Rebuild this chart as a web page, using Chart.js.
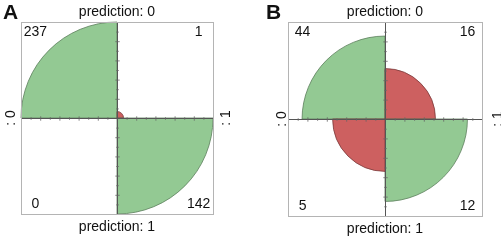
<!DOCTYPE html>
<html>
<head>
<meta charset="utf-8">
<script src="https://cdn.jsdelivr.net/npm/chart.js@4/dist/chart.umd.min.js"></script>
<style>
  html, body { margin: 0; padding: 0; background: #ffffff; }
  #wrap { position: relative; width: 501px; height: 241px; overflow: hidden; }
  canvas { position: absolute; top: 0; }
</style>
</head>
<body>
<div id="wrap">
  <canvas id="cA" width="250" height="241" style="left:0px"></canvas>
  <canvas id="cB" width="251" height="241" style="left:250px"></canvas>
</div>
<script>
// Quadrant order (clockwise from 9 o'clock): top-left, top-right, bottom-right, bottom-left
const quadrants = ['top-left', 'top-right', 'bottom-right', 'bottom-left'];

// Panel A: counts shown in the corners, and the (standardized) quarter-circle radii
const countsA = [237, 1, 142, 0];
const radiusA = [1.0, 0.068, 1.0, 0.0];

// Panel B
const countsB = [44, 16, 12, 5];
const radiusB = [0.855, 0.52, 0.85, 0.54];

// Axis text
const topLabel = 'prediction: 0';
const bottomLabel = 'prediction: 1';
const leftLabel = ': 0';
const rightLabel = ': 1';

// Tick marks along the axes (fraction of the quadrant radius)
const tickValues = [0.1, 0.2, 0.3, 0.4, 0.5, 0.6, 0.7, 0.8, 0.9];

const GREEN = '#93c993';
const RED = '#cd6060';
const GREEN_EDGE = '#5d7f5d';
const RED_EDGE = '#7a3a3a';

const FONT = '"Liberation Sans", Arial, sans-serif';

const fourfoldPlugin = {
  id: 'fourfold',
  afterDatasetsDraw(chart, args, opts) {
    const s = chart.scales.r;
    const ctx = chart.ctx;
    const xc = s.xCenter, yc = s.yCenter, R = s.drawingArea;
    ctx.save();
    // axis cross
    ctx.strokeStyle = '#555555';
    ctx.lineWidth = 1;
    ctx.beginPath();
    ctx.moveTo(xc - R, yc + 0.5); ctx.lineTo(xc + R, yc + 0.5);
    ctx.moveTo(xc + 0.5, yc - R); ctx.lineTo(xc + 0.5, yc + R);
    ctx.stroke();
    // ticks
    ctx.lineWidth = 0.8;
    ctx.strokeStyle = '#666666';
    ctx.beginPath();
    tickValues.forEach((v, i) => {
      const d = s.getDistanceFromCenterForValue(v);
      const h = (i % 2 === 1) ? 2.2 : 1.3;
      [-1, 1].forEach(sg => {
        const px = xc + 0.5 + sg * d;
        const py = yc + 0.5 + sg * d;
        ctx.moveTo(px, yc + 0.5 - h); ctx.lineTo(px, yc + 0.5 + h);
        ctx.moveTo(xc + 0.5 - h, py); ctx.lineTo(xc + 0.5 + h, py);
      });
    });
    ctx.stroke();
    // box
    ctx.strokeStyle = '#b4b4b4';
    ctx.lineWidth = 1;
    ctx.strokeRect(xc - R + 0.5, yc - R + 0.5, 2 * R, 2 * R);

    // texts
    ctx.fillStyle = '#111111';
    ctx.font = '14px ' + FONT;
    ctx.textAlign = 'center';
    ctx.textBaseline = 'alphabetic';
    ctx.fillText(topLabel, xc, yc - R - 6);
    ctx.fillText(bottomLabel, xc, yc + R + 17);

    // corner counts
    ctx.textBaseline = 'middle';
    const c = opts.counts;
    const dx = 0.85 * R, dy = 0.895 * R;
    ctx.fillText(String(c[0]), xc - dx, yc - dy);
    ctx.fillText(String(c[1]), xc + dx, yc - dy);
    ctx.fillText(String(c[2]), xc + dx, yc + dy);
    ctx.fillText(String(c[3]), xc - dx, yc + dy);

    // side labels (rotated, reading bottom-to-top)
    ctx.save();
    ctx.translate(xc - R - opts.sideLeft, yc);
    ctx.rotate(-Math.PI / 2);
    ctx.fillText(leftLabel, 0, 0);
    ctx.restore();
    ctx.save();
    ctx.translate(xc + R + opts.sideRight, yc);
    ctx.rotate(-Math.PI / 2);
    ctx.fillText(rightLabel, 0, 0);
    ctx.restore();

    // panel letter
    ctx.font = 'bold 21px ' + FONT;
    ctx.textAlign = 'left';
    ctx.textBaseline = 'alphabetic';
    ctx.fillText(opts.letter, opts.letterX, 19);
    ctx.restore();
  }
};

function makeChart(id, radii, counts, padding, letter, letterX, sideLeft, sideRight) {
  return new Chart(document.getElementById(id), {
    type: 'polarArea',
    data: {
      labels: quadrants,
      datasets: [{
        data: radii,
        backgroundColor: [GREEN, RED, GREEN, RED],
        borderColor: [GREEN_EDGE, RED_EDGE, GREEN_EDGE, RED_EDGE],
        borderWidth: 0.8
      }]
    },
    options: {
      responsive: false,
      devicePixelRatio: 1,
      animation: false,
      events: [],
      layout: { padding: padding },
      scales: {
        r: {
          min: 0,
          max: 1,
          startAngle: -90,
          ticks: { display: false },
          grid: { display: false },
          angleLines: { display: false },
          pointLabels: { display: false }
        }
      },
      plugins: {
        legend: { display: false },
        tooltip: { enabled: false },
        fourfold: { counts: counts, letter: letter, letterX: letterX, sideLeft: sideLeft, sideRight: sideRight }
      }
    },
    plugins: [fourfoldPlugin]
  });
}

makeChart('cA', radiusA, countsA, { left: 21, right: 36, top: 22, bottom: 26 }, 'A', 3, 10, 13);
makeChart('cB', radiusB, countsB, { left: 38, right: 19, top: 22, bottom: 25 }, 'B', 16, 6, 16);
</script>
</body>
</html>
